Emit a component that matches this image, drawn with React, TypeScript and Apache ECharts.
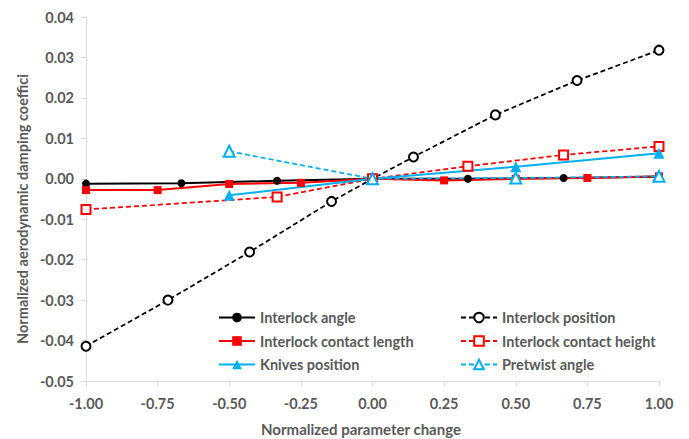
import React, { useEffect, useRef } from "react";
import * as echarts from "echarts";

const angleX = [-1, -0.667, -0.333, 0, 0.333, 0.667, 1];
const angleY = [-0.0012, -0.0011, -0.0005, 0, 0.0, 0.0002, 0.0005];

const positionX = [-1, -0.714, -0.429, -0.143, 0, 0.143, 0.429, 0.714, 1];
const positionY = [-0.0414, -0.03, -0.0181, -0.0056, 0, 0.0054, 0.0158, 0.0243, 0.0318];

const lengthX = [-1, -0.75, -0.5, -0.25, 0, 0.25, 0.5, 0.75, 1];
const lengthY = [-0.0028, -0.0028, -0.0013, -0.001, 0, -0.0004, 0.0, 0.0002, 0.0006];

const heightX = [-1, -0.333, 0, 0.333, 0.667, 1];
const heightY = [-0.0076, -0.0045, 0, 0.0031, 0.0059, 0.008];

const knivesX = [-0.5, 0, 0.5, 1];
const knivesY = [-0.0041, 0, 0.003, 0.0063];

const pretwistX = [-0.5, 0, 0.5, 1];
const pretwistY = [0.0068, 0, 0.0002, 0.0006];

const yAxisName = "Normalized aerodynamic damping coeffici";
const xAxisName = "Normalized parameter change";

const zip = (xs: number[], ys: number[]) => xs.map((x, i) => [x, ys[i]]);

const FONT = "Lato";
const GRAY = "#595959";
const FS = 14.5;

export default function App() {
  const ref = useRef<HTMLDivElement>(null);
  useEffect(() => {
    const chart = echarts.init(ref.current!, null, { renderer: "svg" });
    const black = "#000000";
    const red = "#ff0000";
    const blue = "#00b0f0";
    const fmt = (v: number) => (Math.abs(v) < 1e-9 ? "0.00" : v.toFixed(2));
    const legendText = { color: GRAY, fontFamily: FONT, fontWeight: "bold", fontSize: FS };
    chart.setOption({
      animation: false,
      backgroundColor: "#ffffff",
      grid: { left: 86, right: 30, top: 17, bottom: 58 },
      xAxis: {
        type: "value",
        min: -1,
        max: 1,
        interval: 0.25,
        splitLine: { show: false },
        axisLine: { onZero: false, lineStyle: { color: "#d9d9d9", width: 1 } },
        axisTick: { show: true, length: 5, lineStyle: { color: "#d9d9d9" } },
        axisLabel: {
          formatter: fmt,
          color: GRAY,
          fontFamily: FONT,
          fontWeight: "bold",
          fontSize: FS,
          margin: 15,
        },
      },
      yAxis: {
        type: "value",
        min: -0.05,
        max: 0.04,
        interval: 0.01,
        splitLine: { show: false },
        axisLine: { show: true, onZero: false, lineStyle: { color: "#d9d9d9", width: 1 } },
        axisTick: { show: true, length: 5, lineStyle: { color: "#d9d9d9" } },
        axisLabel: {
          formatter: fmt,
          color: GRAY,
          fontFamily: FONT,
          fontWeight: "bold",
          fontSize: FS,
          margin: 12,
        },
      },
      graphic: [
        {
          type: "text",
          x: 22,
          y: 209,
          rotation: Math.PI / 2,
          style: {
            text: yAxisName,
            fill: GRAY,
            font: `bold ${FS}px ${FONT}`,
            align: "center",
            verticalAlign: "middle",
          },
        },
        {
          type: "text",
          x: 361,
          y: 429,
          style: {
            text: xAxisName,
            fill: GRAY,
            font: `bold 15px ${FONT}`,
            align: "center",
            verticalAlign: "middle",
          },
        },
      ],
      legend: [
        {
          orient: "vertical",
          left: 213,
          top: 305,
          itemWidth: 36,
          itemHeight: 12,
          itemGap: 8.5,
          data: ["Interlock angle", "Interlock contact length", "Knives position"],
          textStyle: legendText,
        },
        {
          orient: "vertical",
          left: 455,
          top: 305,
          itemWidth: 36,
          itemHeight: 12,
          itemGap: 8.5,
          data: ["Interlock position", "Interlock contact height", "Pretwist angle"],
          textStyle: legendText,
        },
      ],
      series: [
        {
          name: "Interlock angle",
          type: "line",
          data: zip(angleX, angleY),
          symbol: "circle",
          symbolSize: 8,
          lineStyle: { color: black, width: 2 },
          itemStyle: { color: black },
        },
        {
          name: "Interlock position",
          type: "line",
          data: zip(positionX, positionY),
          symbol: "emptyCircle",
          symbolSize: 9,
          lineStyle: { color: black, width: 1.75, type: [5, 3] },
          itemStyle: { color: black, borderWidth: 1.75 },
        },
        {
          name: "Interlock contact length",
          type: "line",
          data: zip(lengthX, lengthY),
          symbol: "rect",
          symbolSize: 8,
          lineStyle: { color: red, width: 2 },
          itemStyle: { color: red },
        },
        {
          name: "Interlock contact height",
          type: "line",
          data: zip(heightX, heightY),
          symbol: "emptyRect",
          symbolSize: 9,
          lineStyle: { color: red, width: 1.75, type: [5, 3] },
          itemStyle: { color: red, borderWidth: 1.75 },
        },
        {
          name: "Knives position",
          type: "line",
          data: zip(knivesX, knivesY),
          symbol: "triangle",
          symbolSize: 11,
          lineStyle: { color: blue, width: 2 },
          itemStyle: { color: blue },
        },
        {
          name: "Pretwist angle",
          type: "line",
          data: zip(pretwistX, pretwistY),
          symbol: "emptyTriangle",
          symbolSize: 11,
          lineStyle: { color: blue, width: 1.75, type: [5, 3] },
          itemStyle: { color: blue, borderWidth: 1.75 },
        },
      ],
    });
    return () => chart.dispose();
  }, []);
  return (
    <div
      ref={ref}
      style={{ position: "absolute", left: 0, top: 0, width: 689, height: 439 }}
    />
  );
}
